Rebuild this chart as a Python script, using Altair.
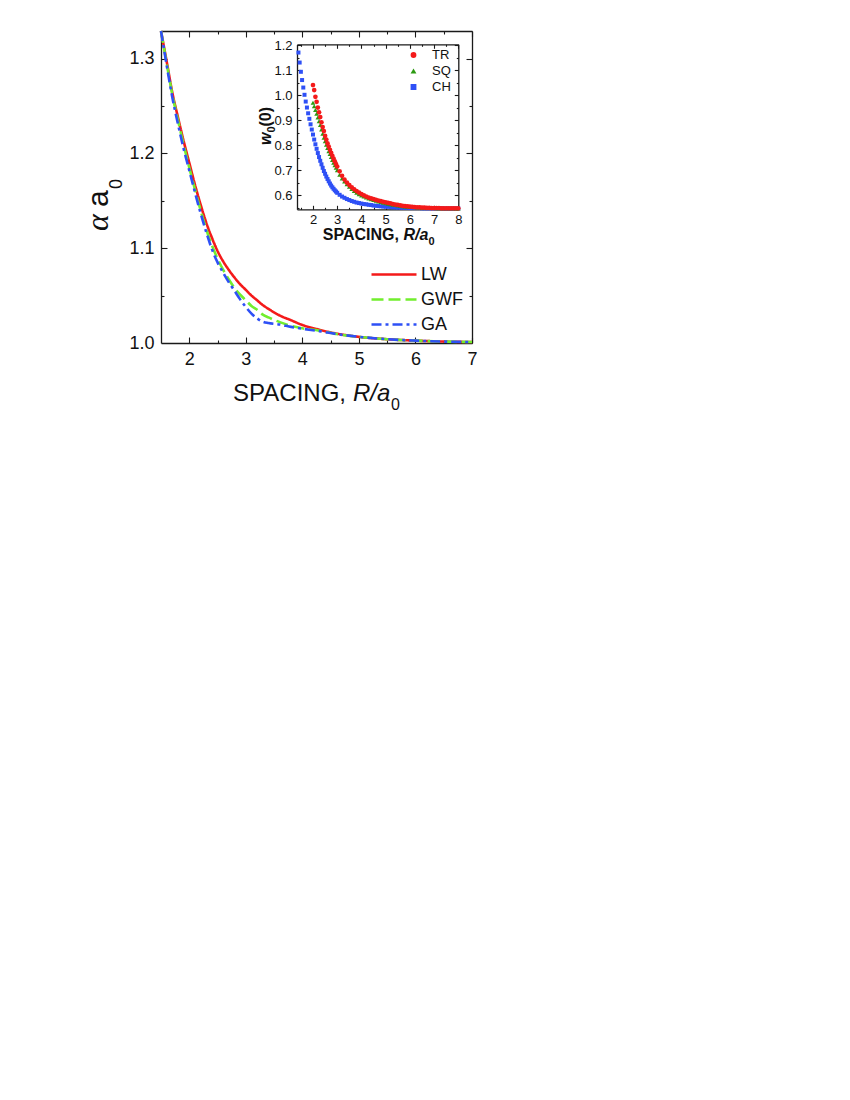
import altair as alt
import pandas as pd

FONT = "Liberation Sans"

# ---------------- main panel data (alpha * a0 vs spacing R/a0) ----------------
main_R = [1.5, 1.6, 1.7, 1.8, 1.9, 2.0, 2.1, 2.2, 2.3, 2.4, 2.5, 2.6, 2.7, 2.8, 2.9,
          3.0, 3.1, 3.2, 3.3, 3.4, 3.6, 3.8, 4.0, 4.3, 4.6, 5.0, 5.5, 6.0, 6.5, 7.0]
LW = [1.329, 1.297, 1.264, 1.238, 1.213, 1.190, 1.167, 1.146, 1.127, 1.111, 1.097, 1.086,
      1.077, 1.069, 1.062, 1.056, 1.050, 1.045, 1.040, 1.036, 1.029, 1.024, 1.019, 1.014,
      1.010, 1.0065, 1.004, 1.0025, 1.0015, 1.001]
GWF = [1.329, 1.295, 1.262, 1.235, 1.209, 1.185, 1.162, 1.140, 1.120, 1.103, 1.089, 1.077,
       1.067, 1.058, 1.051, 1.045, 1.039, 1.035, 1.030, 1.027, 1.022, 1.018, 1.0155, 1.013,
       1.0095, 1.0065, 1.004, 1.0025, 1.0015, 1.001]
GA = [1.329, 1.293, 1.259, 1.231, 1.205, 1.182, 1.159, 1.137, 1.117, 1.099, 1.085, 1.074,
      1.064, 1.055, 1.046, 1.038, 1.031, 1.026, 1.0225, 1.021, 1.0195, 1.017, 1.015, 1.0125,
      1.0095, 1.0065, 1.004, 1.0025, 1.0015, 1.001]

# ---------------- inset data (w0(0) vs spacing) ----------------
R_CH = [1.40, 1.45, 1.50, 1.55, 1.60, 1.65, 1.70, 1.75, 1.80, 1.85, 1.90, 1.95,
        2.00, 2.05, 2.10, 2.15, 2.20, 2.25, 2.30, 2.35, 2.40, 2.45, 2.50, 2.55,
        2.60, 2.65, 2.70, 2.75, 2.80, 2.85, 2.90, 2.95, 3.00,
        3.1, 3.2, 3.3, 3.4, 3.5, 3.6, 3.7, 3.8, 3.9, 4.0,
        4.1, 4.2, 4.3, 4.4, 4.5, 4.6, 4.7, 4.8, 4.9, 5.0,
        5.1, 5.2, 5.3, 5.4, 5.5, 5.6, 5.7, 5.8, 5.9, 6.0,
        6.1, 6.2, 6.3, 6.4, 6.5, 6.6, 6.7, 6.8, 6.9, 7.0,
        7.1, 7.2, 7.3, 7.4, 7.5, 7.6, 7.7, 7.8, 7.9, 8.0]
CH = [1.170, 1.130, 1.093, 1.060, 1.030, 1.001, 0.974, 0.950, 0.927, 0.905, 0.883, 0.862,
      0.842, 0.822, 0.803, 0.785, 0.768, 0.752, 0.737, 0.723, 0.709, 0.696, 0.685, 0.674,
      0.664, 0.655, 0.646, 0.638, 0.631, 0.625, 0.619, 0.614, 0.609,
      0.601, 0.594, 0.589, 0.584, 0.580, 0.576, 0.573, 0.570, 0.568, 0.566,
      0.564, 0.563, 0.561, 0.560, 0.558, 0.557, 0.556, 0.555, 0.554, 0.553,
      0.553, 0.552, 0.551, 0.551, 0.550, 0.550, 0.549, 0.549, 0.549, 0.548,
      0.548, 0.548, 0.548, 0.548, 0.547, 0.547, 0.547, 0.547, 0.547, 0.547,
      0.547, 0.547, 0.547, 0.546, 0.546, 0.546, 0.546, 0.546, 0.546, 0.546]
R_TS = [2.00, 2.05, 2.10, 2.15, 2.20, 2.25, 2.30, 2.35, 2.40, 2.45, 2.50, 2.55,
        2.60, 2.65, 2.70, 2.75, 2.80, 2.85, 2.90, 2.95, 3.00,
        3.1, 3.2, 3.3, 3.4, 3.5, 3.6, 3.7, 3.8, 3.9, 4.0,
        4.1, 4.2, 4.3, 4.4, 4.5, 4.6, 4.7, 4.8, 4.9, 5.0,
        5.1, 5.2, 5.3, 5.4, 5.5, 5.6, 5.7, 5.8, 5.9, 6.0,
        6.1, 6.2, 6.3, 6.4, 6.5, 6.6, 6.7, 6.8, 6.9, 7.0,
        7.1, 7.2, 7.3, 7.4, 7.5, 7.6, 7.7, 7.8, 7.9, 8.0]
TR = [1.040, 1.020, 0.993, 0.973, 0.950, 0.931, 0.912, 0.891, 0.872, 0.856, 0.837, 0.822,
      0.807, 0.794, 0.781, 0.769, 0.757, 0.746, 0.735, 0.724, 0.714,
      0.695, 0.677, 0.662, 0.650, 0.640, 0.631, 0.623, 0.616, 0.610, 0.604,
      0.599, 0.594, 0.590, 0.587, 0.584, 0.581, 0.578, 0.576, 0.573, 0.571,
      0.569, 0.567, 0.564, 0.562, 0.561, 0.559, 0.557, 0.556, 0.555, 0.554,
      0.553, 0.552, 0.551, 0.551, 0.550, 0.550, 0.549, 0.549, 0.548, 0.548,
      0.548, 0.548, 0.547, 0.547, 0.547, 0.547, 0.547, 0.547, 0.547, 0.547]
SQ = [0.969, 0.955, 0.940, 0.925, 0.910, 0.895, 0.880, 0.862, 0.845, 0.829, 0.815, 0.801,
      0.788, 0.775, 0.764, 0.752, 0.740, 0.729, 0.719, 0.709, 0.699,
      0.681, 0.666, 0.654, 0.643, 0.633, 0.624, 0.616, 0.609, 0.603, 0.598,
      0.594, 0.590, 0.586, 0.583, 0.580, 0.577, 0.574, 0.572, 0.569, 0.567,
      0.565, 0.563, 0.561, 0.560, 0.558, 0.557, 0.555, 0.554, 0.553, 0.552,
      0.552, 0.551, 0.550, 0.550, 0.549, 0.549, 0.548, 0.548, 0.548, 0.548,
      0.547, 0.547, 0.547, 0.547, 0.547, 0.547, 0.547, 0.547, 0.546, 0.546]

main_names = ["LW", "GWF", "GA"]
main_colors = ["#f41a1a", "#72ee2e", "#2e50f6"]
main_dashes = [[1, 0], [12, 5], [10, 4, 3, 4]]

inset_names = ["TR", "SQ", "CH"]
inset_colors = ["#f41a1a", "#2c9a12", "#2e50f6"]
inset_shapes = ["circle", "triangle-up", "square"]

# tick values
main_xticks = [2, 2.5, 3, 3.5, 4, 4.5, 5, 5.5, 6, 6.5, 7]
main_xlabels = [2, 3, 4, 5, 6, 7]
main_yticks = [1.05, 1.1, 1.15, 1.2, 1.25, 1.3]
main_ylabels = [1.0, 1.1, 1.2, 1.3]
inset_xticks = [1.5, 2, 2.5, 3, 3.5, 4, 4.5, 5, 5.5, 6, 6.5, 7, 7.5, 8]
inset_xlabels = [2, 3, 4, 5, 6, 7, 8]
inset_yticks = [0.55, 0.6, 0.65, 0.7, 0.75, 0.8, 0.85, 0.9, 0.95, 1.0, 1.05, 1.1, 1.15, 1.2]
inset_ylabels = [0.6, 0.7, 0.8, 0.9, 1.0, 1.1, 1.2]

W, H = 311, 312
AXC = "#1a1a1a"

INT_TEST = "abs(datum.value - round(datum.value)) < 0.001"
TENTH_TEST = "abs(datum.value*10 - round(datum.value*10)) < 0.001"


def label_axis(orient, values, fmt, size, pad, offset=0):
    return alt.Axis(orient=orient, values=values, format=fmt, ticks=False, tickSize=0,
                    domain=True, domainColor=AXC, domainWidth=1.3, grid=False,
                    labelFont=FONT, labelFontSize=size, labelPadding=pad, labelColor="#111",
                    labelFlush=False, labelOverlap=False, title=None, offset=offset)


def tick_axis(orient, values, test, major, minor, domain, offset=0):
    # inward ticks (negative size); minor ticks shortened with a dash pattern
    return alt.Axis(orient=orient, values=values, labels=False, domain=domain,
                    domainColor=AXC, domainWidth=1.3, grid=False, ticks=True,
                    tickColor=AXC, tickWidth=1.1,
                    tickSize={"expr": str(-major)},
                    tickDash={"condition": {"test": test, "value": [major + 2, 0]},
                              "value": [minor, 40]},
                    title=None, offset=offset)


main_leg = alt.Legend(orient="none", legendX=209, legendY=233, title=None, symbolType="stroke",
                      symbolSize=2025, symbolStrokeWidth=2.6, labelFont=FONT, labelFontSize=18,
                      labelColor="#111", labelOffset=3, clipHeight=21, rowPadding=4, padding=0)


def main_layer(name, vals, xaxis, yaxis):
    df = pd.DataFrame({"R": main_R, "v": vals, "series": name})
    return alt.Chart(df).mark_line(strokeWidth=2.6, interpolate="monotone").encode(
        x=alt.X("R:Q", scale=alt.Scale(domain=[1.5, 7.0], nice=False, zero=False), axis=xaxis),
        y=alt.Y("v:Q", scale=alt.Scale(domain=[1.0, 1.329], nice=False, zero=False), axis=yaxis),
        color=alt.Color("series:N", scale=alt.Scale(domain=main_names, range=main_colors), legend=main_leg),
        strokeDash=alt.StrokeDash("series:N", scale=alt.Scale(domain=main_names, range=main_dashes), legend=main_leg),
    )


main = alt.layer(
    main_layer("LW", LW,
               label_axis("bottom", main_xlabels, "d", 18, 7),
               label_axis("left", main_ylabels, ".1f", 18, 7)),
    main_layer("GWF", GWF,
               tick_axis("bottom", main_xticks, INT_TEST, 6, 3, False),
               tick_axis("left", main_yticks, TENTH_TEST, 6, 3, False)),
    main_layer("GA", GA,
               tick_axis("top", main_xticks, INT_TEST, 6, 3, True),
               tick_axis("right", main_yticks, TENTH_TEST, 6, 3, True)),
).resolve_scale(x="independent", y="independent")

# ---------------- inset ----------------
IXD, IXR = [1.34, 8.0], [136, 297.3]
IYD, IYR = [0.543, 1.203], [178.3, 13.3]
OFF_B, OFF_L, OFF_T, OFF_R = -(H - 178.3), -136, -13.3, -(W - 297.3)

ins_leg = alt.Legend(orient="none", legendX=246, legendY=17, title=None, symbolSize=34,
                     labelFont=FONT, labelFontSize=13, labelColor="#111", labelOffset=12,
                     clipHeight=14, rowPadding=2, padding=0, symbolStrokeWidth=0)


def inset_layer(name, rs, vals, size, xaxis, yaxis):
    df = pd.DataFrame({"R": rs, "w": vals, "series": name})
    return alt.Chart(df).mark_point(filled=True, size=size, opacity=1).encode(
        x=alt.X("R:Q", scale=alt.Scale(domain=IXD, range=IXR, nice=False, zero=False), axis=xaxis),
        y=alt.Y("w:Q", scale=alt.Scale(domain=IYD, range=IYR, nice=False, zero=False), axis=yaxis),
        color=alt.Color("series:N", scale=alt.Scale(domain=inset_names, range=inset_colors), legend=ins_leg),
        shape=alt.Shape("series:N", scale=alt.Scale(domain=inset_names, range=inset_shapes), legend=ins_leg),
    )


inset = alt.layer(
    inset_layer("CH", R_CH, CH, 16,
                label_axis("bottom", inset_xlabels, "d", 13, 4, OFF_B),
                label_axis("left", inset_ylabels, ".1f", 13, 5, OFF_L)),
    inset_layer("SQ", R_TS, SQ, 22,
                tick_axis("bottom", inset_xticks, INT_TEST, 4, 2, False, OFF_B),
                tick_axis("left", inset_yticks, TENTH_TEST, 4, 2, False, OFF_L)),
    inset_layer("TR", R_TS, TR, 22,
                tick_axis("top", inset_xticks, INT_TEST, 4, 2, True, OFF_T),
                tick_axis("right", inset_yticks, TENTH_TEST, 4, 2, True, OFF_R)),
).resolve_scale(x="independent", y="independent")


# ---------------- titles (text) ----------------
def txt(text, x, y, size, align="left", angle=0, style="normal", weight="normal", font=FONT):
    return alt.Chart(pd.DataFrame({"t": [text]})).mark_text(
        align=align, baseline="alphabetic", angle=angle, fontSize=size, fontStyle=style,
        fontWeight=weight, font=font, color="#111"
    ).encode(x=alt.value(x), y=alt.value(y), text="t:N")


titles = [
    # main x title
    txt("SPACING,", 185, 370, 24, align="right"),
    txt("R/a", 192, 370, 24, style="italic"),
    txt("0", 230, 379, 16),
    # main y title
    txt("α", -53, 200, 32, angle=270, style="italic", font="Liberation Serif"),
    txt("a", -53, 176, 30, angle=270),
    txt("0", -39, 158, 18, angle=270),
    # inset x title
    txt("SPACING,", 238, 209, 16, align="right", weight="bold"),
    txt("R/a", 242.4, 209, 16, style="italic", weight="bold"),
    txt("0", 267.5, 214, 11, weight="bold"),
    # inset y title
    txt("w", 110, 114, 16, angle=270, style="italic", weight="bold"),
    txt("0", 114, 101.5, 11, angle=270, weight="bold"),
    txt("(0)", 110, 95.5, 16, angle=270, weight="bold"),
]

chart = alt.layer(main, inset, *titles).resolve_scale(
    x="independent", y="independent", color="independent", shape="independent",
    strokeDash="independent"
).properties(
    width=W, height=H,
    autosize=alt.AutoSizeParams(type="none"),
    padding={"left": 153, "top": 23, "right": 40, "bottom": 120},
).configure_view(stroke=None).configure(font=FONT)

chart.save("out.html", embed_options={"renderer": "svg", "actions": False})
